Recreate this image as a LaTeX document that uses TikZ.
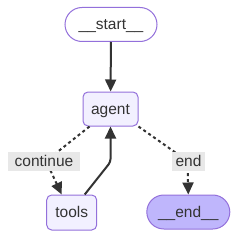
\documentclass[tikz,border=0pt]{standalone}
\usepackage{fontspec}
\setmainfont{Liberation Sans}
\usepackage{xcolor}
\usetikzlibrary{arrows.meta}
\definecolor{nodefill}{HTML}{F2F0FF}
\definecolor{nodeline}{HTML}{9370DB}
\definecolor{lastfill}{HTML}{BFB6FC}
\definecolor{edgecol}{HTML}{333333}
\definecolor{lblfill}{HTML}{E8E8E8}

\begin{document}
\begin{tikzpicture}[x=1pt,y=-1pt,
  box/.style={draw=nodeline, line width=1pt, fill=nodefill, rounded corners=5pt, inner sep=0pt,
    text=edgecol, font=\fontsize{15.5}{18}\selectfont, text height=12pt, text depth=1.5pt,
    minimum height=34pt},
  pill/.style={box, rounded corners=17pt},
  lbl/.style={fill=lblfill, inner sep=0pt, minimum height=19pt, text=edgecol,
    font=\fontsize{15.5}{18}\selectfont, text height=12pt, text depth=1.5pt},
  edge/.style={draw=edgecol, line width=2pt, -{Triangle[length=12pt,width=11pt]}},
  dotedge/.style={edge, dash pattern=on 3pt off 3pt}
]
\useasboundingbox (0,0) rectangle (238,238);

\node[pill, fill=white, minimum width=92pt] (start) at (111,24.5) {\_\_start\_\_};
\node[box, minimum width=55pt] (agent) at (110.5,109) {agent};
\node[box, minimum width=50pt, minimum height=35pt] (tools) at (71.7,212.5) {tools};
\node[pill, fill=lastfill, minimum width=83pt] (end) at (188.3,212) {\_\_end\_\_};

\coordinate (c1) at (46,161);
\coordinate (c2) at (110.5,162);
\coordinate (c3) at (187.5,161);

\draw[edge] (start) -- (agent);
\draw[dotedge] ([xshift=7pt]agent.south west) -- (c1) -- ([xshift=-10pt]tools.north);
\draw[edge, rounded corners=3pt] ([xshift=13pt]tools.north) -- (c2) -- (agent.south);
\draw[dotedge] (agent.south east) -- (c3) -- (end.north);

\node[lbl, minimum width=72pt] (lcont) at (44,161) {continue};
\node[lbl, minimum width=33pt] (lend) at (188.5,161) {end};
\end{tikzpicture}
\end{document}
